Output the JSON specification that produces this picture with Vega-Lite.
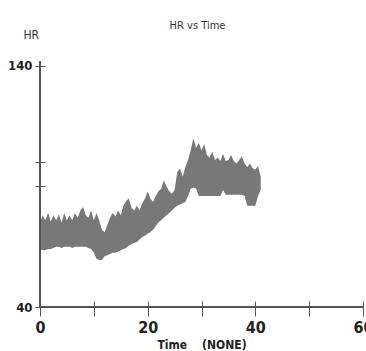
{
  "$schema": "https://vega.github.io/schema/vega-lite/v6.json",
  "autosize": {"type": "none"},
  "width": 323,
  "height": 246,
  "padding": {"left": 40, "top": 61, "right": 3, "bottom": 44},
  "background": "white",
  "title": {"text": "HR vs Time", "font": "DejaVu Sans Condensed, Liberation Sans Narrow, sans-serif", "fontSize": 11, "fontWeight": "normal", "color": "#333333", "anchor": "middle", "frame": "group", "dx": -4, "offset": -12, "baseline": "alphabetic"},
  "config": {"view": {"stroke": null}},
  "data": {"values": [
    {"t": 0, "hi": 75, "lo": 64}, {"t": 0.5, "hi": 78, "lo": 63.5}, {"t": 1, "hi": 76, "lo": 63.5}, {"t": 1.5, "hi": 79, "lo": 64},
    {"t": 2, "hi": 75.5, "lo": 64}, {"t": 2.5, "hi": 78, "lo": 64.5}, {"t": 3, "hi": 76, "lo": 65}, {"t": 3.5, "hi": 78.5, "lo": 65},
    {"t": 4, "hi": 75, "lo": 64.5}, {"t": 4.5, "hi": 79, "lo": 65}, {"t": 5, "hi": 76, "lo": 65}, {"t": 5.5, "hi": 78, "lo": 65},
    {"t": 6, "hi": 76, "lo": 64.5}, {"t": 6.5, "hi": 79, "lo": 65}, {"t": 7, "hi": 77, "lo": 65}, {"t": 7.5, "hi": 80, "lo": 65},
    {"t": 8, "hi": 81.5, "lo": 65}, {"t": 8.5, "hi": 78, "lo": 65}, {"t": 9, "hi": 77, "lo": 64.5}, {"t": 9.5, "hi": 80, "lo": 64},
    {"t": 10, "hi": 76, "lo": 62.5}, {"t": 10.5, "hi": 79, "lo": 60}, {"t": 11, "hi": 76, "lo": 59.5}, {"t": 11.5, "hi": 72, "lo": 59.5},
    {"t": 12, "hi": 71, "lo": 61}, {"t": 12.5, "hi": 74, "lo": 61.5}, {"t": 13, "hi": 77, "lo": 62}, {"t": 13.5, "hi": 79, "lo": 62.5},
    {"t": 14, "hi": 77.5, "lo": 62.5}, {"t": 14.5, "hi": 80, "lo": 63}, {"t": 15, "hi": 78, "lo": 63.5}, {"t": 15.5, "hi": 82, "lo": 64},
    {"t": 16, "hi": 84, "lo": 64.5}, {"t": 16.5, "hi": 85, "lo": 65.5}, {"t": 17, "hi": 81, "lo": 66}, {"t": 17.5, "hi": 80, "lo": 66.5},
    {"t": 18, "hi": 82, "lo": 67}, {"t": 18.5, "hi": 80, "lo": 68}, {"t": 19, "hi": 83, "lo": 69}, {"t": 19.5, "hi": 85, "lo": 69.5},
    {"t": 20, "hi": 88, "lo": 70.5}, {"t": 20.5, "hi": 85, "lo": 71}, {"t": 21, "hi": 83.5, "lo": 72}, {"t": 21.5, "hi": 86, "lo": 73.5},
    {"t": 22, "hi": 88, "lo": 75}, {"t": 22.5, "hi": 89, "lo": 76}, {"t": 23, "hi": 92.5, "lo": 77}, {"t": 23.5, "hi": 90, "lo": 78},
    {"t": 24, "hi": 88, "lo": 79}, {"t": 24.5, "hi": 87, "lo": 80}, {"t": 25, "hi": 88.5, "lo": 81}, {"t": 25.5, "hi": 96, "lo": 82},
    {"t": 26, "hi": 97.5, "lo": 82.5}, {"t": 26.5, "hi": 94, "lo": 83}, {"t": 27, "hi": 98, "lo": 83.5}, {"t": 27.5, "hi": 101, "lo": 86},
    {"t": 28, "hi": 105, "lo": 89}, {"t": 28.5, "hi": 110, "lo": 89.5}, {"t": 29, "hi": 106, "lo": 89}, {"t": 29.5, "hi": 108, "lo": 86},
    {"t": 30, "hi": 105, "lo": 86}, {"t": 30.5, "hi": 107.5, "lo": 86}, {"t": 31, "hi": 103, "lo": 86}, {"t": 31.5, "hi": 102, "lo": 86},
    {"t": 32, "hi": 104.5, "lo": 86}, {"t": 32.5, "hi": 101, "lo": 86}, {"t": 33, "hi": 102, "lo": 86}, {"t": 33.5, "hi": 100.5, "lo": 86},
    {"t": 34, "hi": 103.5, "lo": 88.5}, {"t": 34.5, "hi": 100.5, "lo": 86.5}, {"t": 35, "hi": 101, "lo": 86.5}, {"t": 35.5, "hi": 103, "lo": 86.5},
    {"t": 36, "hi": 100.5, "lo": 86.5}, {"t": 36.5, "hi": 99.5, "lo": 86.5}, {"t": 37, "hi": 101, "lo": 86.5}, {"t": 37.5, "hi": 102.5, "lo": 86.5},
    {"t": 38, "hi": 99.5, "lo": 86}, {"t": 38.5, "hi": 98, "lo": 82}, {"t": 39, "hi": 99.5, "lo": 82}, {"t": 39.5, "hi": 97.5, "lo": 82},
    {"t": 40, "hi": 97, "lo": 82}, {"t": 40.5, "hi": 98.5, "lo": 86}, {"t": 41, "hi": 94, "lo": 88.5}
  ]},
  "layer": [
    {
      "mark": {"type": "area", "color": "#787878", "opacity": 1},
      "encoding": {
        "x": {"field": "t", "type": "quantitative", "scale": {"domain": [0, 60], "nice": false},
          "axis": {"values": [0, 10, 20, 30, 40, 50, 60], "labelExpr": "datum.value % 20 == 0 ? datum.label : ''",
            "title": "Time\u00a0\u00a0\u00a0\u00a0(NONE)", "grid": false, "domain": false, "offset": -6, "tickSize": 15,
            "tickColor": "#555555", "labelFont": "DejaVu Sans Condensed, Liberation Sans Narrow, sans-serif", "labelFontWeight": "bold", "labelFontSize": 16,
            "labelColor": "#222222", "labelBaseline": "alphabetic", "labelPadding": 16, "labelDx": -2, "labelFlush": false, "labelOverlap": false,
            "titleFont": "DejaVu Sans Condensed, Liberation Sans Narrow, sans-serif", "titleFontSize": 12, "titleFontWeight": "bold", "titleColor": "#222222",
            "titleY": 47, "titleBaseline": "alphabetic"}},
        "y": {"field": "hi", "type": "quantitative", "scale": {"domain": [40, 142], "nice": false, "zero": false},
          "axis": {"values": [40, 90, 100, 140], "labelExpr": "datum.value == 40 || datum.value == 140 ? datum.label : ''",
            "grid": false, "domain": false, "offset": -5, "tickSize": 10, "tickColor": "#555555", "labelPadding": 3,
            "labelFont": "DejaVu Sans Condensed, Liberation Sans Narrow, sans-serif", "labelFontWeight": "bold", "labelFontSize": 13, "labelColor": "#222222",
            "title": "HR", "titleAngle": 0, "titleX": -22, "titleY": -23, "titleAlign": "left", "titleBaseline": "alphabetic",
            "titleFont": "DejaVu Sans Condensed, Liberation Sans Narrow, sans-serif", "titleFontWeight": "normal", "titleFontSize": 12, "titleColor": "#333333"}},
        "y2": {"field": "lo"}
      }
    },
    {"mark": {"type": "rule", "color": "#555555", "strokeWidth": 1}, "encoding": {"y": {"datum": 40}}},
    {"mark": {"type": "rule", "color": "#555555", "strokeWidth": 1}, "encoding": {"x": {"datum": 0}}}
  ]
}
